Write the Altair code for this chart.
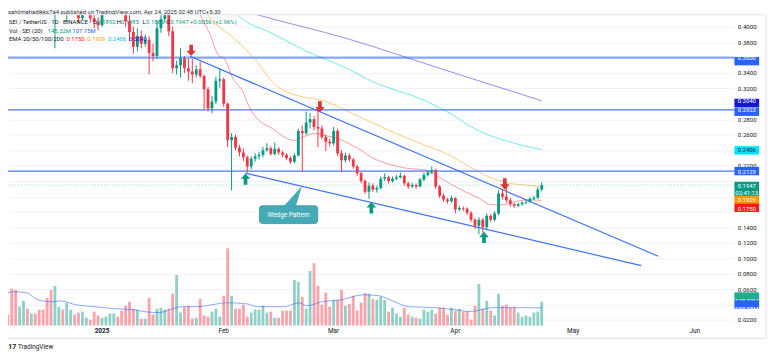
import altair as alt
import pandas as pd

FONT = "Roboto"
UP = "#089981"
DOWN = "#f23645"

# ---------------- data (days counted from 2025-01-01) ----------------
FIRST_DAY = -24          # 2024-12-08
OPEN_FIRST = 0.640
CLOSE = [
    0.610, 0.530, 0.500, 0.550, 0.570, 0.550, 0.560, 0.540, 0.520, 0.510,
    0.460, 0.430, 0.440, 0.450, 0.440, 0.470, 0.480, 0.450, 0.411, 0.425,
    0.430, 0.411, 0.406, 0.402, 0.430, 0.450, 0.470, 0.490, 0.480, 0.470,
    0.407, 0.393, 0.374, 0.388, 0.378, 0.383, 0.366, 0.362, 0.398, 0.410,
    0.440, 0.394, 0.346, 0.350, 0.359, 0.346, 0.342, 0.338, 0.345, 0.336,
    0.319, 0.294, 0.303, 0.330, 0.332, 0.300, 0.253, 0.257, 0.243, 0.237,
    0.231, 0.219, 0.229, 0.232, 0.234, 0.240, 0.2425, 0.235, 0.242, 0.237,
    0.234, 0.230, 0.225, 0.233, 0.265, 0.262, 0.276, 0.280, 0.270, 0.268,
    0.257, 0.251, 0.249, 0.265, 0.236, 0.227, 0.233, 0.228, 0.219, 0.210,
    0.200, 0.186, 0.194, 0.189, 0.191, 0.203, 0.205, 0.200, 0.203, 0.205,
    0.207, 0.197, 0.193, 0.195, 0.193, 0.202, 0.208, 0.211, 0.214, 0.193,
    0.181, 0.176, 0.174, 0.178, 0.163, 0.165, 0.164, 0.159, 0.150, 0.142,
    0.150, 0.140, 0.155, 0.150, 0.158, 0.184, 0.180, 0.175, 0.170, 0.168,
    0.170, 0.172, 0.173, 0.177, 0.1783, 0.1892, 0.1947,
]
HIGH = [
    0.660, 0.620, 0.540, 0.560, 0.590, 0.580, 0.570, 0.570, 0.550, 0.530,
    0.520, 0.470, 0.450, 0.470, 0.460, 0.480, 0.500, 0.490, 0.455, 0.440,
    0.445, 0.435, 0.420, 0.412, 0.440, 0.460, 0.480, 0.500, 0.500, 0.490,
    0.475, 0.415, 0.400, 0.398, 0.395, 0.390, 0.388, 0.378, 0.408, 0.440,
    0.450, 0.445, 0.400, 0.356, 0.372, 0.362, 0.359, 0.358, 0.350, 0.355,
    0.338, 0.322, 0.310, 0.335, 0.346, 0.334, 0.302, 0.262, 0.260, 0.247,
    0.242, 0.233, 0.232, 0.236, 0.238, 0.244, 0.249, 0.245, 0.250, 0.244,
    0.239, 0.236, 0.232, 0.236, 0.268, 0.272, 0.290, 0.288, 0.284, 0.293,
    0.272, 0.260, 0.255, 0.270, 0.268, 0.240, 0.237, 0.236, 0.230, 0.221,
    0.212, 0.202, 0.198, 0.197, 0.194, 0.206, 0.210, 0.207, 0.206, 0.208,
    0.211, 0.208, 0.199, 0.198, 0.197, 0.204, 0.211, 0.214, 0.219, 0.216,
    0.195, 0.184, 0.178, 0.181, 0.179, 0.168, 0.167, 0.166, 0.161, 0.152,
    0.153, 0.152, 0.158, 0.157, 0.161, 0.188, 0.190, 0.197, 0.178, 0.172,
    0.172, 0.174, 0.176, 0.179, 0.181, 0.192, 0.1985,
]
LOW = [
    0.590, 0.500, 0.470, 0.490, 0.540, 0.530, 0.530, 0.520, 0.500, 0.480,
    0.440, 0.420, 0.372, 0.425, 0.425, 0.406, 0.450, 0.430, 0.405, 0.408,
    0.415, 0.405, 0.398, 0.395, 0.400, 0.425, 0.440, 0.460, 0.470, 0.450,
    0.400, 0.381, 0.365, 0.368, 0.372, 0.374, 0.338, 0.355, 0.358, 0.392,
    0.405, 0.388, 0.340, 0.338, 0.334, 0.340, 0.330, 0.327, 0.334, 0.333,
    0.293, 0.290, 0.288, 0.300, 0.321, 0.296, 0.244, 0.188, 0.240, 0.232,
    0.226, 0.211, 0.215, 0.225, 0.228, 0.231, 0.238, 0.233, 0.233, 0.234,
    0.231, 0.227, 0.222, 0.223, 0.232, 0.212, 0.260, 0.268, 0.266, 0.244,
    0.254, 0.239, 0.245, 0.246, 0.232, 0.212, 0.224, 0.225, 0.216, 0.207,
    0.197, 0.183, 0.177, 0.186, 0.185, 0.189, 0.200, 0.197, 0.198, 0.201,
    0.203, 0.194, 0.190, 0.191, 0.190, 0.192, 0.200, 0.206, 0.209, 0.190,
    0.178, 0.173, 0.171, 0.172, 0.158, 0.161, 0.161, 0.156, 0.147, 0.138,
    0.131, 0.133, 0.137, 0.147, 0.148, 0.156, 0.176, 0.172, 0.167, 0.165,
    0.166, 0.168, 0.170, 0.172, 0.175, 0.177, 0.1866,
]
VOLUME_M = [
    67, 224, 218, 115, 151, 103, 73, 73, 97, 97,
    169, 218, 242, 115, 97, 139, 97, 67, 79, 85,
    48, 36, 85, 61, 48, 54, 73, 73, 54, 91,
    121, 145, 103, 97, 42, 42, 169, 67, 103, 109,
    97, 103, 194, 309, 79, 115, 121, 42, 48, 163,
    61, 54, 85, 103, 54, 182, 472, 182, 103, 103,
    127, 54, 79, 97, 97, 121, 79, 85, 48, 48,
    91, 91, 91, 278, 266, 175, 103, 333, 381, 242,
    127, 200, 115, 157, 157, 218, 121, 133, 182, 91,
    139, 200, 194, 163, 157, 175, 157, 85, 109, 73,
    54, 109, 67, 54, 48, 42, 97, 85, 97, 73,
    109, 109, 67, 109, 91, 103, 85, 85, 36, 121,
    254, 103, 151, 91, 61, 194, 121, 127, 109, 115,
    79, 54, 61, 54, 79, 85, 145.32,
]
VOL_MA_DAY = [-24.5, -22.1, -19.2, -16.3, -12.5, -10.5, -6.7, -1.8, 3.0, 7.8, 10.7,
              14.5, 17.4, 20.3, 24.2, 31.9, 36.8, 39.6, 46.4, 50.2, 52.2, 56.0,
              60.9, 66.6, 70.5, 73.4, 78.2, 85.0, 89.8, 93.7, 99.4, 109.1, 112.0]
VOL_MA = [200, 206, 200, 157, 145, 151, 127, 115, 103, 97, 85,
          79, 97, 115, 115, 139, 133, 115, 115, 139, 121, 145,
          157, 188, 182, 157, 115, 109, 97, 85, 109, 109, 107.75]

EMA20_DAY = [22.0, 25.2, 27.5, 29.5, 31.3, 33.3, 35.8, 37.6, 40.1, 43.4, 46.6, 48.9,
             50.9, 54.2, 56.7, 60.2, 62.8, 66.0, 68.6, 72.3, 77.4, 82.4, 85.7, 89.2,
             92.5, 95.8, 99.3, 101.8, 105.1, 108.4, 112.0]
EMA20 = [0.450, 0.413, 0.390, 0.364, 0.3577, 0.333, 0.3167, 0.295, 0.2782, 0.268, 0.2565, 0.2526,
         0.2565, 0.2616, 0.259, 0.255, 0.2488, 0.240, 0.2308, 0.2231, 0.2167, 0.2141, 0.2052, 0.195,
         0.186, 0.1783, 0.1693, 0.1693, 0.1731, 0.1757, 0.1750]
EMA50_DAY = [23.0, 27.0, 34.0, 36.3, 39.1, 43.9, 48.4, 52.7, 56.5, 62.3, 67.8, 74.9,
             82.4, 87.5, 94.3, 99.3, 103.4, 107.6, 112.0]
EMA50 = [0.450, 0.4154, 0.383, 0.372, 0.357, 0.3257, 0.3129, 0.3077, 0.3039, 0.2911, 0.2782, 0.2616,
         0.2462, 0.2360, 0.2167, 0.2039, 0.1975, 0.195, 0.1929]
EMA100_DAY = [29.5, 34.5, 43.9, 52.2, 62.3, 68.6, 82.4, 87.5, 95.8, 102.6, 112.0]
EMA100 = [0.445, 0.4154, 0.3898, 0.368, 0.3462, 0.3295, 0.3039, 0.2911, 0.2654, 0.2526, 0.2406]
EMA200_DAY = [24.5, 39.6, 62.3, 87.5, 112.0]
EMA200 = [0.4385, 0.4154, 0.3847, 0.3436, 0.3040]

LEVEL_STRONG = [0.3600]
LEVELS = [0.2923, 0.2129]
LAST_PRICE = 0.1947
UPPER_DAY = [22.4, 141.7]
UPPER = [0.3616, 0.1026]
LOWER_DAY = [36.55, 137.4]
LOWER = [0.2103, 0.0904]
SELL_DAY = [22.7, 55.5, 102.6]
SELL = [0.3693, 0.2962, 0.1962]
BUY_DAY = [36.55, 68.6, 97.3]
BUY = [0.2026, 0.1654, 0.1270]
CALLOUT_DAY = [40.08, 54.95]
CALLOUT_P = [0.1449, 0.1680]
TAIL_DAY = [46.38, 49.41, 50.92]
TAIL_TOP = [0.1680, 0.1850, 0.1936]
TAIL_BOTTOM = [0.1680, 0.1680, 0.1936]

MONTH_TICKS = [0, 31, 59, 90, 120, 151]
MONTH_LABELS = ["2025", "Feb", "Mar", "Apr", "May", "Jun"]
PRICE_TICKS = [0.02, 0.04, 0.06, 0.08, 0.10, 0.12, 0.14, 0.16, 0.18, 0.20,
               0.22, 0.24, 0.26, 0.28, 0.30, 0.32, 0.34, 0.36, 0.38, 0.40]
HIDDEN_TICKS_CENTS = [4, 16, 18, 20, 24, 30, 36]   # labels covered by value boxes

# ---------------- tables ----------------
days = list(range(FIRST_DAY, FIRST_DAY + len(CLOSE)))
opens = [OPEN_FIRST] + CLOSE[:-1]
candles = pd.DataFrame({"d": days, "open": opens, "close": CLOSE,
                        "high": HIGH, "low": LOW, "vol": VOLUME_M})
candles["dir"] = ["up" if c >= o else "down" for o, c in zip(opens, CLOSE)]
ONE = pd.DataFrame({"k": [0]})

W, H = 734, 314
XS = alt.Scale(domain=[-23.95, 161.08], nice=False, zero=False)
PS = alt.Scale(domain=[0.01287, 0.41543], nice=False, zero=False)
VS = alt.Scale(domain=[0, 1900], nice=False, zero=False)
CS = alt.Scale(domain=["up", "down"], range=[UP, DOWN])


def xq(f):
    return alt.X(f, type="quantitative", scale=XS, axis=None)


def pq(f):
    return alt.Y(f, type="quantitative", scale=PS, axis=None)


def vq(f):
    return alt.Y(f, type="quantitative", scale=VS, axis=None)


def series(xs, ys):
    return pd.DataFrame({"d": xs, "p": ys})


layers = []

hidden = ",".join(str(v) for v in HIDDEN_TICKS_CENTS)
price_label_expr = f"indexof([{hidden}], round(datum.value * 100)) >= 0 ? '' : format(datum.value, '.4f')"

# volume
cb = alt.Chart(candles).transform_calculate(x0="datum.d - 0.36", x1="datum.d + 0.36")
layers.append(cb.mark_rect(opacity=0.45).encode(
    x=xq("x0"), x2="x1", y=vq("vol"), y2=alt.datum(0),
    color=alt.Color("dir:N", scale=CS, legend=None)))
layers.append(alt.Chart(series(VOL_MA_DAY, VOL_MA)).mark_line(
    color="#2962ff", opacity=0.55, strokeWidth=1, interpolate="monotone", clip=True
).encode(x=xq("d"), y=vq("p")))

# EMAs
for xs, ys, col, op in [(EMA200_DAY, EMA200, "#2121e0", 0.5), (EMA100_DAY, EMA100, "#00d2e6", 0.55),
                        (EMA50_DAY, EMA50, "#ff9800", 0.5), (EMA20_DAY, EMA20, "#ff2020", 0.45)]:
    layers.append(alt.Chart(series(xs, ys)).mark_line(
        color=col, opacity=op, strokeWidth=1, interpolate="monotone", clip=True
    ).encode(x=xq("d"), y=pq("p")))

# horizontal levels
layers.append(alt.Chart(pd.DataFrame({"p": LEVEL_STRONG})).mark_rule(
    color="#2962ff", strokeWidth=2.2, opacity=0.55).encode(y=pq("p")))
layers.append(alt.Chart(pd.DataFrame({"p": LEVELS})).mark_rule(
    color="#2962ff", strokeWidth=1.3, opacity=0.85).encode(y=pq("p")))
layers.append(alt.Chart(pd.DataFrame({"p": [LAST_PRICE]})).mark_rule(
    color=UP, strokeWidth=1, opacity=0.45, strokeDash=[1, 2]).encode(y=pq("p")))

# wedge lines
for xs, ys in [(UPPER_DAY, UPPER), (LOWER_DAY, LOWER)]:
    layers.append(alt.Chart(series(xs, ys)).mark_line(
        color="#2962ff", strokeWidth=1.2, opacity=0.9, clip=True).encode(x=xq("d"), y=pq("p")))

# candles (wicks carry the grid / price axis)
layers.append(alt.Chart(candles).mark_rule(strokeWidth=1, clip=True).encode(
    x=alt.X("d:Q", scale=XS, axis=alt.Axis(
        values=MONTH_TICKS, labels=False, grid=True, gridColor="#f0f3fa",
        domain=False, ticks=False, title=None)),
    y=alt.Y("low:Q", scale=PS, axis=alt.Axis(
        orient="right", values=PRICE_TICKS, labelExpr=price_label_expr,
        grid=True, gridColor="#f0f3fa", domain=False, ticks=False, labelPadding=3,
        labelFontSize=6.2, labelColor="#131722", labelFont=FONT, labelAlign="left",
        labelOverlap=False, title=None)),
    y2="high:Q",
    color=alt.Color("dir:N", scale=CS, legend=None)))
layers.append(cb.mark_rect(clip=True).encode(
    x=xq("x0"), x2="x1", y=pq("open"), y2="close",
    color=alt.Color("dir:N", scale=CS, legend=None)))

# time-axis labels
months = pd.DataFrame({"d": MONTH_TICKS, "lab": MONTH_LABELS})
layers.append(alt.Chart(months).transform_filter("datum.d == 0").mark_text(
    fontSize=6.5, font=FONT, fontWeight="bold", color="#131722", baseline="middle"
).encode(x=xq("d"), y=alt.value(H + 6), text="lab:N"))
layers.append(alt.Chart(months).transform_filter("datum.d != 0").mark_text(
    fontSize=6.5, font=FONT, color="#131722", baseline="middle"
).encode(x=xq("d"), y=alt.value(H + 6), text="lab:N"))

# arrows
DOWN_PATH = "M-0.33,-1L0.33,-1L0.33,0.05L0.85,0.05L0,1L-0.85,0.05L-0.33,0.05Z"
UP_PATH = "M-0.33,1L0.33,1L0.33,-0.05L0.85,-0.05L0,-1L-0.85,-0.05L-0.33,-0.05Z"
layers.append(alt.Chart(series(SELL_DAY, SELL)).mark_point(
    shape=DOWN_PATH, filled=True, size=130, color="#d93838", opacity=1, strokeWidth=0
).encode(x=xq("d"), y=pq("p")))
layers.append(alt.Chart(series(BUY_DAY, BUY)).mark_point(
    shape=UP_PATH, filled=True, size=130, color=UP, opacity=1, strokeWidth=0
).encode(x=xq("d"), y=pq("p")))

# callout
layers.append(alt.Chart(pd.DataFrame({"d": TAIL_DAY, "t": TAIL_TOP, "b": TAIL_BOTTOM})).mark_area(
    color="#46a9b6", opacity=1).encode(x=xq("d"), y=pq("t"), y2="b"))
layers.append(alt.Chart(pd.DataFrame({"d0": [CALLOUT_DAY[0]], "d1": [CALLOUT_DAY[1]],
                                      "p0": [CALLOUT_P[0]], "p1": [CALLOUT_P[1]]})).mark_rect(
    color="#46a9b6", cornerRadius=3, stroke="#2f97a4", strokeWidth=0.8).encode(
    x=xq("d0"), x2="d1", y=pq("p0"), y2="p1"))
layers.append(alt.Chart(pd.DataFrame({"d": [sum(CALLOUT_DAY) / 2], "p": [sum(CALLOUT_P) / 2]})).mark_text(
    text="Wedge Pattern", color="white", fontSize=6.5, font=FONT, align="center", baseline="middle"
).encode(x=xq("d"), y=pq("p")))


# axis value boxes
def price_box(value, label, fill, tcol="white", off=0.0, hgt=8.5, sub=None, scale="p", toff=0.0):
    df = pd.DataFrame({"p": [value]})
    enc_y = pq("p") if scale == "p" else vq("p")
    out = [alt.Chart(df).mark_bar(orient="horizontal", color=fill, size=hgt, yOffset=off).encode(
        x=alt.value(W), x2=alt.value(W + 25), y=enc_y)]
    out.append(alt.Chart(df).mark_text(
        text=label, color=tcol, fontSize=6, font=FONT, align="center", baseline="middle",
        yOffset=(off - 3.5 if sub else off + toff)).encode(x=alt.value(W + 12.5), y=enc_y))
    if sub:
        out.append(alt.Chart(df).mark_text(
            text=sub, color=tcol, fontSize=6, font=FONT, align="center", baseline="middle",
            yOffset=off + 3.5).encode(x=alt.value(W + 12.5), y=enc_y))
    return out


layers += price_box(0.3600, "0.3600", "#2962ff")
layers += price_box(0.3040, "0.3040", "#1616d8")
layers += price_box(0.2923, "0.2923", "#2962ff")
layers += price_box(0.2406, "0.2406", "#00e5ff", tcol="#131722")
layers += price_box(0.2129, "0.2129", "#2962ff", toff=0.8)
layers += price_box(0.1947, "0.1947", UP, off=4.5, hgt=15, sub="02:41:13")
layers += price_box(0.1929, "0.1929", "#ff9800", off=14)
layers += price_box(0.1750, "0.1750", "#ff1a1a", off=8.5)
layers += price_box(145.32, "145.32M", "#22ab94", off=-1, scale="v")
layers += price_box(107.75, "107.75M", "#2962ff", off=1, scale="v")


# header / footer texts
def txt(s, x, y, color="#131722", size=6, weight="normal"):
    return alt.Chart(ONE).mark_text(text=s, color=color, fontSize=size, fontWeight=weight, font=FONT,
                                    align="left", baseline="middle").encode(x=alt.value(x), y=alt.value(y))


layers += [
    txt("sahilmahadikks7a4 published on TradingView.com, Apr 24, 2025 02:48 UTC+5:30", 0, -2.5, "#2a2e39"),
    txt("SEI / TetherUS · 1D · BINANCE", 1, 7.7),
    txt("O", 86, 7.7), txt("0.1892", 90.3, 7.7, UP),
    txt("H", 110, 7.7), txt("0.1985", 114, 7.7, UP),
    txt("L", 136, 7.7), txt("0.1866", 139.5, 7.7, UP),
    txt("C", 160, 7.7), txt("0.1947", 164, 7.7, UP),
    txt("+0.0056 (+2.96%)", 184, 7.7, UP),
    txt("Vol · SEI (20)", 1, 16.5),
    txt("145.32M", 40, 16.5, UP), txt("107.75M", 65, 16.5, "#2962ff"),
    txt("EMA 20/50/100/200", 1, 25),
    txt("0.1750", 59, 25, "#ff1a1a"), txt("0.1929", 80, 25, "#ff9800"),
    txt("0.2406", 101, 25, "#00bcd4"), txt("0.3040", 122, 25, "#1616d8"),
    txt("17", 0.3, 336, "#131722", 7, "bold"),
    txt("TradingView", 10, 336, "#131722", 6.5),
]

# frame
layers.append(alt.Chart(ONE).mark_rule(color="#e0e3eb", strokeWidth=1).encode(
    x=alt.value(0), x2=alt.value(W + 32), y=alt.value(0)))
layers.append(alt.Chart(ONE).mark_rule(color="#e0e3eb", strokeWidth=1).encode(
    x=alt.value(W + 32), y=alt.value(0), y2=alt.value(H + 13)))
layers.append(alt.Chart(ONE).mark_rule(color="#e0e3eb", strokeWidth=1).encode(
    x=alt.value(0), x2=alt.value(W + 32), y=alt.value(H + 13)))

chart = alt.layer(*layers).resolve_scale(y="independent").properties(
    width=W, height=H,
    padding={"left": 0, "top": 5, "right": 38, "bottom": 31},
    autosize=alt.AutoSizeParams(type="none"),
    background="white",
).configure_view(stroke=None)

chart.save("out.html", embed_options={"renderer": "svg", "actions": False})
